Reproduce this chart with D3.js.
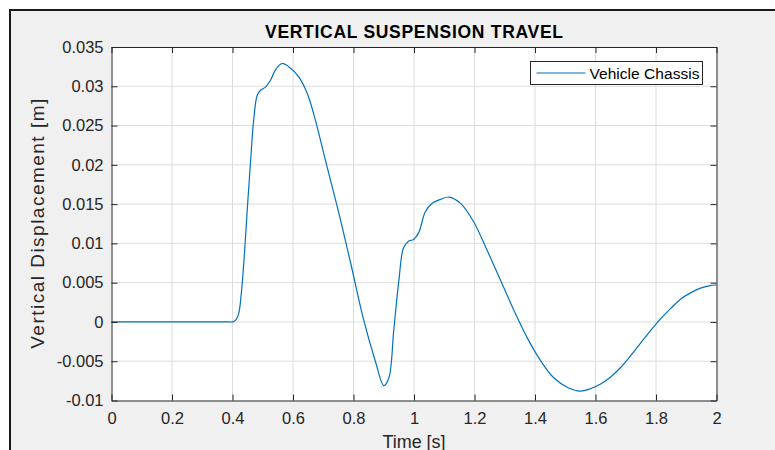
<!DOCTYPE html>
<html>
<head>
<meta charset="utf-8">
<script src="https://cdn.jsdelivr.net/npm/d3@7"></script>
<style>
  body { margin: 0; background: #fff; }
  svg { display: block; font-family: "Liberation Sans", Arial, sans-serif; }
</style>
</head>
<body>
<div id="chart"></div>
<script>
var timeVals = [0, 0.1, 0.2, 0.3, 0.39, 0.4, 0.41, 0.42, 0.43, 0.44, 0.45, 0.46, 0.47, 0.482, 0.493, 0.509,
  0.526, 0.542, 0.564, 0.586, 0.619, 0.647, 0.674, 0.707, 0.75, 0.79, 0.834, 0.873, 0.9, 0.917,
  0.933, 0.95, 0.966, 0.983, 0.999, 1.016, 1.037, 1.06, 1.088, 1.115, 1.154, 1.198, 1.242,
  1.286, 1.33, 1.374, 1.418, 1.462, 1.511, 1.55, 1.583, 1.617, 1.65, 1.683, 1.716, 1.749, 1.782,
  1.815, 1.848, 1.881, 1.914, 1.947, 1.975, 2.0];
var chassisVals = [0, 0, 0, 0, 0, 0, 0.0002, 0.001, 0.004, 0.009, 0.015, 0.0206, 0.0257, 0.0289, 0.0295, 0.0299,
  0.0308, 0.0321, 0.0329, 0.0325, 0.0312, 0.0291, 0.0257, 0.0206, 0.0141, 0.0076, 0.0002, -0.0051, -0.0081, -0.0071,
  -0.0011, 0.0053, 0.0095, 0.0103, 0.0105, 0.0114, 0.014, 0.0151, 0.0156, 0.0159, 0.0151, 0.0127, 0.0091,
  0.0053, 0.0015, -0.002, -0.0049, -0.0071, -0.0084, -0.0088, -0.0085, -0.0079, -0.007, -0.0058, -0.0043, -0.0027, -0.0011,
  0.0004, 0.0017, 0.0029, 0.0037, 0.0043, 0.0046, 0.0047];
var xTicks = [0, 0.2, 0.4, 0.6, 0.8, 1, 1.2, 1.4, 1.6, 1.8, 2];
var yTicks = [-0.01, -0.005, 0, 0.005, 0.01, 0.015, 0.02, 0.025, 0.03, 0.035];
var seriesName = "Vehicle Chassis";

var W = 775, H = 450;
var margin = {top: 47, right: 59, bottom: 50, left: 111.5},
    width = 716.5 - margin.left,
    height = 400.5 - margin.top;

var svg = d3.select("#chart").append("svg")
  .attr("width", W).attr("height", H);

// figure frame
svg.append("rect")
  .attr("x", 10).attr("y", 10).attr("width", W).attr("height", H)
  .attr("fill", "#f0f0f0").attr("stroke", "#1a1a1a").attr("stroke-width", 2);

var g = svg.append("g")
  .attr("transform", "translate(" + margin.left + "," + margin.top + ")");

var x = d3.scaleLinear().domain([0, 2]).range([0, width]);
var y = d3.scaleLinear().domain([-0.01, 0.035]).range([height, 0]);

g.append("rect").attr("width", width).attr("height", height).attr("fill", "#fff");

// grid
g.append("g").selectAll("line").data(xTicks.slice(1, -1)).join("line")
  .attr("x1", d => x(d)).attr("x2", d => x(d)).attr("y1", 0).attr("y2", height)
  .attr("stroke", "#dcdcdc").attr("stroke-width", 1);
g.append("g").selectAll("line").data(yTicks.slice(1, -1)).join("line")
  .attr("y1", d => y(d)).attr("y2", d => y(d)).attr("x1", 0).attr("x2", width)
  .attr("stroke", "#dcdcdc").attr("stroke-width", 1);

// data line
var pts = timeVals.map((t, i) => ({t: t, v: chassisVals[i]}));
g.append("path")
  .datum(pts)
  .attr("fill", "none")
  .attr("stroke", "#0072BD")
  .attr("stroke-width", 1.2)
  .attr("d", d3.line().x(d => x(d.t)).y(d => y(d.v)).curve(d3.curveCatmullRom.alpha(0.5)));

// axes, ticks pointing inward, box on
var axColor = "#262626";
function styleAxis(sel) {
  sel.select(".domain").attr("stroke", axColor);
  sel.selectAll(".tick line").attr("stroke", axColor);
  sel.selectAll(".tick text").attr("fill", axColor).style("font-size", "16.5px")
    .style("font-family", "'Liberation Sans', Arial, sans-serif");
}
g.append("g").attr("transform", "translate(0," + height + ")")
  .call(d3.axisBottom(x).tickValues(xTicks).tickFormat(d3.format("")).tickSizeInner(-6).tickSizeOuter(0).tickPadding(12))
  .call(styleAxis);
g.append("g")
  .call(d3.axisLeft(y).tickValues(yTicks).tickFormat(d => d === 0 ? "0" : String(+d.toFixed(3))).tickSizeInner(-6).tickSizeOuter(0).tickPadding(8))
  .call(styleAxis);
g.append("g")
  .call(d3.axisTop(x).tickValues(xTicks).tickFormat("").tickSizeInner(-6).tickSizeOuter(0))
  .call(styleAxis);
g.append("g").attr("transform", "translate(" + width + ",0)")
  .call(d3.axisRight(y).tickValues(yTicks).tickFormat("").tickSizeInner(-6).tickSizeOuter(0))
  .call(styleAxis);

// legend
var lg = svg.append("g").attr("transform", "translate(530.5,61.5)");
lg.append("rect").attr("width", 172).attr("height", 23)
  .attr("fill", "#fff").attr("stroke", "#262626").attr("stroke-width", 1);
lg.append("line").attr("x1", 6).attr("x2", 55).attr("y1", 11.5).attr("y2", 11.5)
  .attr("stroke", "#0072BD").attr("stroke-width", 1.2);
lg.append("text").attr("x", 59).attr("y", 17).attr("fill", "#000")
  .style("font-size", "15.5px").attr("textLength", 110).attr("lengthAdjust", "spacing")
  .text(seriesName);

// titles
svg.append("text")
  .attr("x", margin.left + width / 2).attr("y", 38)
  .attr("text-anchor", "middle").attr("fill", "#000")
  .style("font-size", "17.5px").style("font-weight", "bold")
  .attr("textLength", 298).attr("lengthAdjust", "spacing")
  .text("VERTICAL SUSPENSION TRAVEL");

svg.append("text")
  .attr("x", margin.left + width / 2).attr("y", 448)
  .attr("text-anchor", "middle").attr("fill", axColor)
  .style("font-size", "18px")
  .attr("textLength", 63).attr("lengthAdjust", "spacing")
  .text("Time [s]");

svg.append("text")
  .attr("transform", "translate(44," + (margin.top + height / 2) + ") rotate(-90)")
  .attr("text-anchor", "middle").attr("fill", axColor)
  .style("font-size", "19px")
  .attr("textLength", 250).attr("lengthAdjust", "spacing")
  .text("Vertical Displacement [m]");
</script>
</body>
</html>
